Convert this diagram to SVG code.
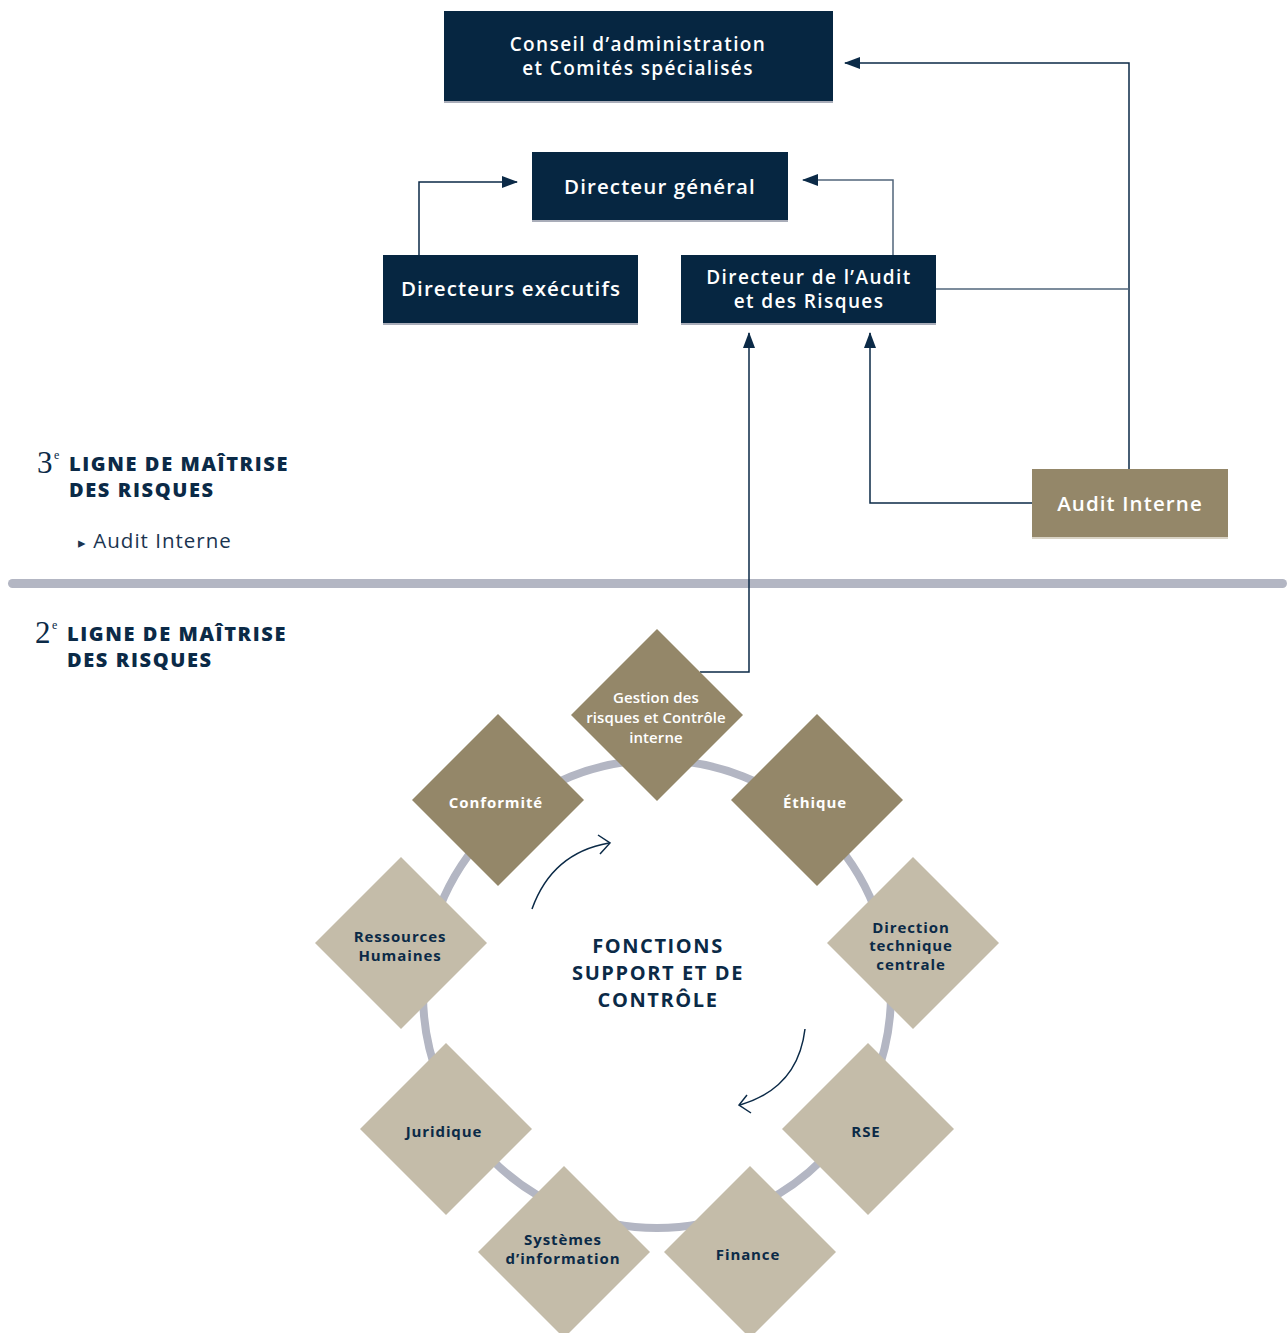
<svg xmlns="http://www.w3.org/2000/svg" width="1287" height="1333" viewBox="0 0 1287 1333">
<style>
.box{fill:#062641}
.sh{fill:#a9adb9}
.bt{font-family:"Open Sans","Liberation Sans",sans-serif;font-weight:600;fill:#ffffff;text-anchor:middle;letter-spacing:1.1px}
.bt2{font-family:"Open Sans","Liberation Sans",sans-serif;font-weight:600;fill:#ffffff;text-anchor:middle;letter-spacing:1.4px;font-size:19px}
.ln{fill:none;stroke:#0b2a47;stroke-width:1.5}
.lnl{fill:none;stroke:#51667b;stroke-width:1.5}
.dd{fill:#948769}
.dl{fill:#c4bca9}
.dt{font-family:"Open Sans","Liberation Sans",sans-serif;font-weight:700;font-size:15px;text-anchor:middle;letter-spacing:0.9px}
.gt{font-family:"Open Sans","Liberation Sans",sans-serif;font-weight:600;font-size:15px;text-anchor:middle;letter-spacing:0.1px;fill:#ffffff}
.w{fill:#ffffff}
.n{fill:#0b2a47}
.hd{font-family:"Open Sans","Liberation Sans",sans-serif;font-weight:800;font-size:20px;fill:#0b2a47;letter-spacing:1.6px}
.num{font-family:"Liberation Serif",serif;fill:#0b2a47}
.ct{font-family:"Open Sans","Liberation Sans",sans-serif;font-weight:700;font-size:20px;fill:#0b2a47;text-anchor:middle;letter-spacing:1.6px}
</style>
<defs>
<marker id="ah" markerUnits="userSpaceOnUse" markerWidth="16" markerHeight="12" refX="15" refY="6" orient="auto">
<path d="M0,0 L16,6 L0,12 Z" fill="#0b2a47"/>
</marker>
</defs>

<rect x="8" y="579" width="1279" height="9" rx="4.5" fill="#b3b6c3"/>

<g id="connectors">
<path class="ln" d="M419 255 V182 H517" marker-end="url(#ah)"/>
<path class="lnl" d="M893 255 V180 H803" marker-end="url(#ah)"/>
<path class="ln" d="M1129 469 V63 H845" marker-end="url(#ah)"/>
<path class="lnl" d="M936 289 H1129"/>
<path class="ln" d="M1032 503 H870 V333" marker-end="url(#ah)"/>
<path class="ln" d="M700 672 H749 V333" marker-end="url(#ah)"/>
</g>

<g id="conseil">
<rect class="sh" x="444" y="100" width="389" height="3"/>
<rect class="box" x="444" y="11" width="389" height="90"/>
<text class="bt2" x="638" y="51">Conseil d’administration</text>
<text class="bt2" x="638" y="75">et Comités spécialisés</text>
</g>

<g id="dg">
<rect class="sh" x="532" y="219" width="256" height="3"/>
<rect class="box" x="532" y="152" width="256" height="68"/>
<text class="bt" x="660" y="194" font-size="20.5">Directeur général</text>
</g>

<g id="dirExec">
<rect class="sh" x="383" y="322" width="255" height="3"/>
<rect class="box" x="383" y="255" width="255" height="68"/>
<text class="bt" x="511" y="296" font-size="20.5">Directeurs exécutifs</text>
</g>

<g id="dirAudit">
<rect class="sh" x="681" y="322" width="255" height="3"/>
<rect class="box" x="681" y="255" width="255" height="68"/>
<text class="bt2" x="809" y="284">Directeur de l’Audit</text>
<text class="bt2" x="809" y="308">et des Risques</text>
</g>

<g id="auditInterne">
<rect x="1032" y="536" width="196" height="3" fill="#d9d3c5"/>
<rect class="dd" x="1032" y="469" width="196" height="68"/>
<text class="bt" x="1130" y="511" font-size="20.5">Audit Interne</text>
</g>

<g id="ligne3">
<text class="num" x="37" y="473" font-size="31">3</text>
<text class="num" x="54" y="459" font-size="12">e</text>
<text class="hd" x="69" y="471">LIGNE DE MAÎTRISE</text>
<text class="hd" x="69" y="497">DES RISQUES</text>
<text x="78" y="548" font-family="'Open Sans','Liberation Sans',sans-serif" font-size="20.5" fill="#1a3450" letter-spacing="1"><tspan font-size="15">▸</tspan> Audit Interne</text>
</g>

<g id="ligne2">
<text class="num" x="35" y="643" font-size="31">2</text>
<text class="num" x="52" y="629" font-size="12">e</text>
<text class="hd" x="67" y="641">LIGNE DE MAÎTRISE</text>
<text class="hd" x="67" y="667">DES RISQUES</text>
</g>

<circle cx="657" cy="994" r="234" fill="none" stroke="#b3b6c3" stroke-width="8"/>

<g id="centre">
<text class="ct" x="658" y="953">FONCTIONS</text>
<text class="ct" x="658" y="980">SUPPORT ET DE</text>
<text class="ct" x="658" y="1007">CONTRÔLE</text>
<path class="ln" d="M532 909 Q552 853 609 843"/>
<path class="ln" d="M598 835 L610 843 L600 854"/>
<path class="ln" d="M805 1029 Q798 1088 740 1105"/>
<path class="ln" d="M747 1095 L739 1105 L751 1113"/>
</g>

<g id="gestion">
<path class="dd" d="M657 629 L743 715 L657 801 L571 715 Z"/>
<text class="gt" x="656" y="703">Gestion des</text>
<text class="gt" x="656" y="723">risques et Contrôle</text>
<text class="gt" x="656" y="743">interne</text>
</g>
<g id="conformite">
<path class="dd" d="M498 714 L584 800 L498 886 L412 800 Z"/>
<text class="dt w" x="496" y="808">Conformité</text>
</g>
<g id="ethique">
<path class="dd" d="M817 714 L903 800 L817 886 L731 800 Z"/>
<text class="dt w" x="815" y="808">Éthique</text>
</g>
<g id="rh">
<path class="dl" d="M401 857 L487 943 L401 1029 L315 943 Z"/>
<text class="dt n" x="400" y="942">Ressources</text>
<text class="dt n" x="400" y="961">Humaines</text>
</g>
<g id="dtc">
<path class="dl" d="M913 857 L999 943 L913 1029 L827 943 Z"/>
<text class="dt n" x="911" y="933">Direction</text>
<text class="dt n" x="911" y="951">technique</text>
<text class="dt n" x="911" y="970">centrale</text>
</g>
<g id="juridique">
<path class="dl" d="M446 1043 L532 1129 L446 1215 L360 1129 Z"/>
<text class="dt n" x="444" y="1137">Juridique</text>
</g>
<g id="rse">
<path class="dl" d="M868 1043 L954 1129 L868 1215 L782 1129 Z"/>
<text class="dt n" x="866" y="1137">RSE</text>
</g>
<g id="si">
<path class="dl" d="M564 1166 L650 1252 L564 1338 L478 1252 Z"/>
<text class="dt n" x="563" y="1245">Systèmes</text>
<text class="dt n" x="563" y="1264">d’information</text>
</g>
<g id="finance">
<path class="dl" d="M750 1166 L836 1252 L750 1338 L664 1252 Z"/>
<text class="dt n" x="748" y="1260">Finance</text>
</g>
</svg>
